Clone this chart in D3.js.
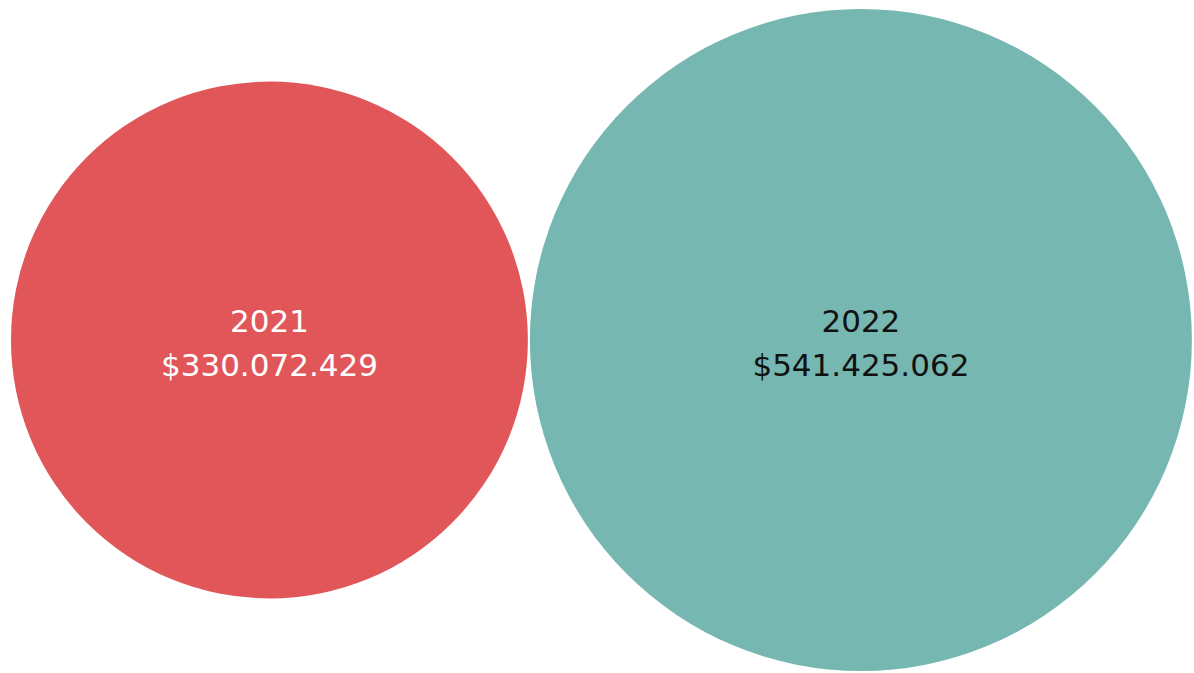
<!DOCTYPE html>
<html>
<head>
<meta charset="utf-8">
<script src="https://cdn.jsdelivr.net/npm/d3@7"></script>
<style>
  body { margin: 0; background: #fff; }
  svg { display: block; }
</style>
</head>
<body>
<svg class="bubble-chart"></svg>
<script>
// Data
var years = ['2021', '2022'];
var sales = [330072429, 541425062];
var labels = ['$330.072.429', '$541.425.062'];

var width = 1194;
var height = 673;
var leftPad = 11;   // space before the first circle
var gap = 2;        // space between circles
var centerY = 340;

var svg = d3.select(".bubble-chart")
    .attr("width", width)
    .attr("height", height);

// Radius encodes area
var rScale = d3.scaleSqrt()
    .domain([0, d3.max(sales)])
    .range([0, 331]);

var colors = d3.scaleOrdinal()
    .domain(years)
    .range(["#e15759", "#76b7b2"]);

var textColors = d3.scaleOrdinal()
    .domain(years)
    .range(["#ffffff", "#111111"]);

// lay circles out side by side
var data = years.map(function(y, i) {
    return { year: y, value: sales[i], label: labels[i], r: rScale(sales[i]) };
});
var cursor = leftPad;
data.forEach(function(d) {
    d.cx = cursor + d.r;
    cursor += 2 * d.r + gap;
});

var g = svg.selectAll(".bubble")
    .data(data)
    .enter().append("g")
    .attr("class", "bubble")
    .attr("transform", function(d) { return "translate(" + d.cx + "," + centerY + ")"; });

g.append("circle")
    .attr("r", function(d) { return d.r; })
    .style("fill", function(d) { return colors(d.year); });

g.append("text")
    .attr("y", -8)
    .attr("text-anchor", "middle")
    .style("font-family", "'DejaVu Sans', sans-serif")
    .style("font-size", "31px")
    .style("fill", function(d) { return textColors(d.year); })
    .text(function(d) { return d.year; });

g.append("text")
    .attr("y", 36)
    .attr("text-anchor", "middle")
    .style("font-family", "'DejaVu Sans', sans-serif")
    .style("font-size", "31px")
    .style("fill", function(d) { return textColors(d.year); })
    .text(function(d) { return d.label; });
</script>
</body>
</html>
